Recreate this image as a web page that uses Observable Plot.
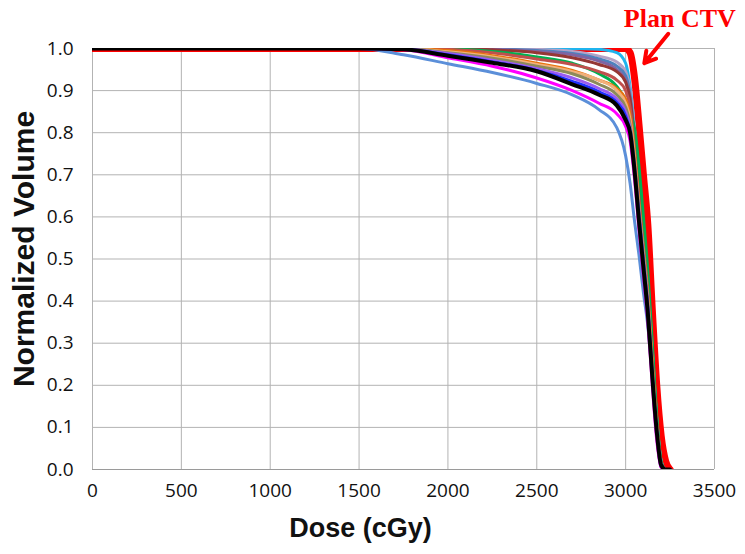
<!DOCTYPE html>
<html>
<head>
<meta charset="utf-8">
<script src="https://cdn.jsdelivr.net/npm/d3@7"></script>
<script src="https://cdn.jsdelivr.net/npm/@observablehq/plot@0.6"></script>
<style>
  html, body { margin: 0; padding: 0; background: #fff; }
  #chart svg { display: block; }
</style>
</head>
<body>
<div id="chart"></div>
<script>
// Dose grid (cGy)
const dose = [0, 1000, 1500, 1750, 2000, 2250, 2500, 2700, 2850, 2950, 3000, 3025, 3050, 3075, 3100, 3125, 3150, 3175, 3200, 3225, 3250];

// Normalized volume per structure
const planCTV    = [1, 1, 1, 1, 1, 1, 1, 1, 1, 1, 1, 0.99, 0.93, 0.82, 0.70, 0.58, 0.38, 0.20, 0.08, 0.02, 0];
const cornflower = [1, 1, 1, 0.985, 0.964, 0.943, 0.917, 0.89, 0.855, 0.812, 0.745, 0.68, 0.59, 0.51, 0.42, 0.34, 0.22, 0.08, 0.005, 0, 0];
const cyan       = [1, 1, 1, 1, 1, 1, 1, 1, 0.998, 0.99, 0.965, 0.91, 0.81, 0.69, 0.57, 0.45, 0.29, 0.12, 0.02, 0, 0];
const lilac      = [1, 1, 1, 1, 1, 1, 0.998, 0.993, 0.982, 0.968, 0.945, 0.90, 0.80, 0.68, 0.56, 0.44, 0.28, 0.12, 0.02, 0, 0];
const steel      = [1, 1, 1, 1, 1, 0.999, 0.995, 0.988, 0.975, 0.958, 0.935, 0.89, 0.79, 0.67, 0.55, 0.43, 0.27, 0.11, 0.015, 0, 0];
const grape      = [1, 1, 1, 1, 1, 0.998, 0.993, 0.985, 0.97, 0.95, 0.925, 0.88, 0.79, 0.67, 0.55, 0.43, 0.27, 0.11, 0.015, 0, 0];
const brown      = [1, 1, 1, 1, 1, 0.997, 0.99, 0.978, 0.962, 0.945, 0.92, 0.88, 0.78, 0.66, 0.55, 0.43, 0.27, 0.11, 0.015, 0, 0];
const green      = [1, 1, 1, 1, 0.999, 0.993, 0.98, 0.965, 0.94, 0.91, 0.875, 0.845, 0.81, 0.72, 0.60, 0.47, 0.30, 0.13, 0.02, 0, 0];
const darkred    = [1, 1, 1, 1, 0.998, 0.99, 0.975, 0.962, 0.945, 0.925, 0.90, 0.86, 0.76, 0.64, 0.53, 0.42, 0.26, 0.11, 0.015, 0, 0];
const orange     = [1, 1, 1, 1, 0.995, 0.983, 0.965, 0.948, 0.925, 0.905, 0.88, 0.84, 0.75, 0.63, 0.52, 0.41, 0.25, 0.10, 0.01, 0, 0];
const peach      = [1, 1, 1, 1, 0.992, 0.98, 0.962, 0.945, 0.925, 0.90, 0.87, 0.83, 0.74, 0.62, 0.51, 0.40, 0.24, 0.10, 0.01, 0, 0];
const olive      = [1, 1, 1, 1, 0.99, 0.977, 0.958, 0.94, 0.915, 0.89, 0.86, 0.82, 0.73, 0.62, 0.51, 0.40, 0.24, 0.10, 0.01, 0, 0];
const violet     = [1, 1, 1, 0.999, 0.988, 0.972, 0.952, 0.93, 0.905, 0.88, 0.85, 0.81, 0.72, 0.61, 0.50, 0.39, 0.23, 0.09, 0.01, 0, 0];
const blue       = [1, 1, 1, 0.998, 0.985, 0.968, 0.948, 0.922, 0.897, 0.872, 0.84, 0.80, 0.71, 0.60, 0.49, 0.38, 0.22, 0.09, 0.01, 0, 0];
const magenta    = [1, 1, 1, 0.997, 0.978, 0.958, 0.93, 0.90, 0.87, 0.845, 0.815, 0.78, 0.69, 0.57, 0.46, 0.35, 0.20, 0.07, 0.005, 0, 0];
const black      = [1, 1, 1, 0.998, 0.983, 0.966, 0.946, 0.915, 0.89, 0.865, 0.83, 0.80, 0.71, 0.59, 0.48, 0.37, 0.22, 0.09, 0.01, 0, 0];

// drawing order: Plan CTV first (lies underneath the others at 1.0)
const seriesNames = ["planCTV", "cornflower", "cyan", "lilac", "steel", "grape", "brown", "green", "darkred", "orange", "peach", "olive", "violet", "blue", "magenta", "black"];
const seriesValues = [planCTV, cornflower, cyan, lilac, steel, grape, brown, green, darkred, orange, peach, olive, violet, blue, magenta, black];

// styles (separate from data)
const seriesColors = ["#ff0000", "#5b8fd9", "#1fb4ee", "#b3a2c7", "#4f81bd", "#8064a2", "#953735", "#00b050", "#c0504d", "#e8730c", "#f2b07a", "#8c8a5a", "#9b5cf0", "#1f2fff", "#ff00ff", "#000000"];
const seriesWidths = [7, 3, 3, 3, 3, 3, 3, 3, 3, 3, 3, 3, 3, 3, 3, 4];

const xTicks = [0, 500, 1000, 1500, 2000, 2500, 3000, 3500];
const yTicks = [0, 0.1, 0.2, 0.3, 0.4, 0.5, 0.6, 0.7, 0.8, 0.9, 1.0];

// annotation
const annotationText = ["Plan CTV"];
const annotationAt = [{x: 3305, y: 1.072}];
const arrowFrom = [{x: 3240, y: 1.035}];
const arrowTo = [{x: 3105, y: 0.965}];

const rows = [];
seriesNames.forEach((name, i) => {
  dose.forEach((d, j) => rows.push({series: name, dose: d, volume: seriesValues[i][j]}));
});

const lineMarks = seriesNames.map((name, i) =>
  Plot.line(rows.filter(r => r.series === name), {
    x: "dose", y: "volume",
    stroke: seriesColors[i], strokeWidth: seriesWidths[i],
    curve: "monotone-x", strokeLinejoin: "round", strokeLinecap: "round",
    clip: true
  })
);

const chart = Plot.plot({
  width: 745,
  height: 554,
  marginLeft: 92,
  marginRight: 31,
  marginTop: 48,
  marginBottom: 85,
  style: {fontFamily: "'Open Sans', sans-serif", background: "#fff"},
  x: {domain: [0, 3500], ticks: xTicks},
  y: {domain: [0, 1], ticks: yTicks},
  marks: [
    Plot.gridX(xTicks, {stroke: "#b3b3b3", strokeOpacity: 1, strokeWidth: 1}),
    Plot.gridY(yTicks, {stroke: "#b3b3b3", strokeOpacity: 1, strokeWidth: 1}),
    Plot.ruleY([0], {stroke: "#9a9a9a", strokeWidth: 1.2}),
    Plot.axisX(xTicks, {tickSize: 0, tickPadding: 14, fontSize: 19, label: null, tickFormat: d3.format("d"), fill: "#111"}),
    Plot.axisY(yTicks, {tickSize: 0, tickPadding: 19, fontSize: 19, label: null, tickFormat: d3.format(".1f"), fill: "#111"}),
    ...lineMarks,
    Plot.text(["Dose (cGy)"], {frameAnchor: "bottom", dx: -43, dy: 67, fontSize: 27, fontWeight: "bold", fontFamily: "'Liberation Sans', Arial, sans-serif", fill: "#111"}),
    Plot.text(["Normalized Volume"], {frameAnchor: "left", textAnchor: "middle", dx: -68, dy: -10, rotate: -90, fontSize: 30, fontWeight: "bold", fontFamily: "'Liberation Sans', Arial, sans-serif", fill: "#111"}),
    Plot.arrow([0], {x1: () => arrowFrom[0].x, y1: () => arrowFrom[0].y, x2: () => arrowTo[0].x, y2: () => arrowTo[0].y, stroke: "#ff0000", strokeWidth: 4, headLength: 14, clip: false}),
    Plot.text(annotationText, {x: annotationAt.map(d => d.x), y: annotationAt.map(d => d.y), fontSize: 26, fontWeight: "bold", fontFamily: "'Liberation Serif', 'DejaVu Serif', serif", fill: "#ff0000", clip: false})
  ]
});

document.getElementById("chart").appendChild(chart);
</script>
</body>
</html>
